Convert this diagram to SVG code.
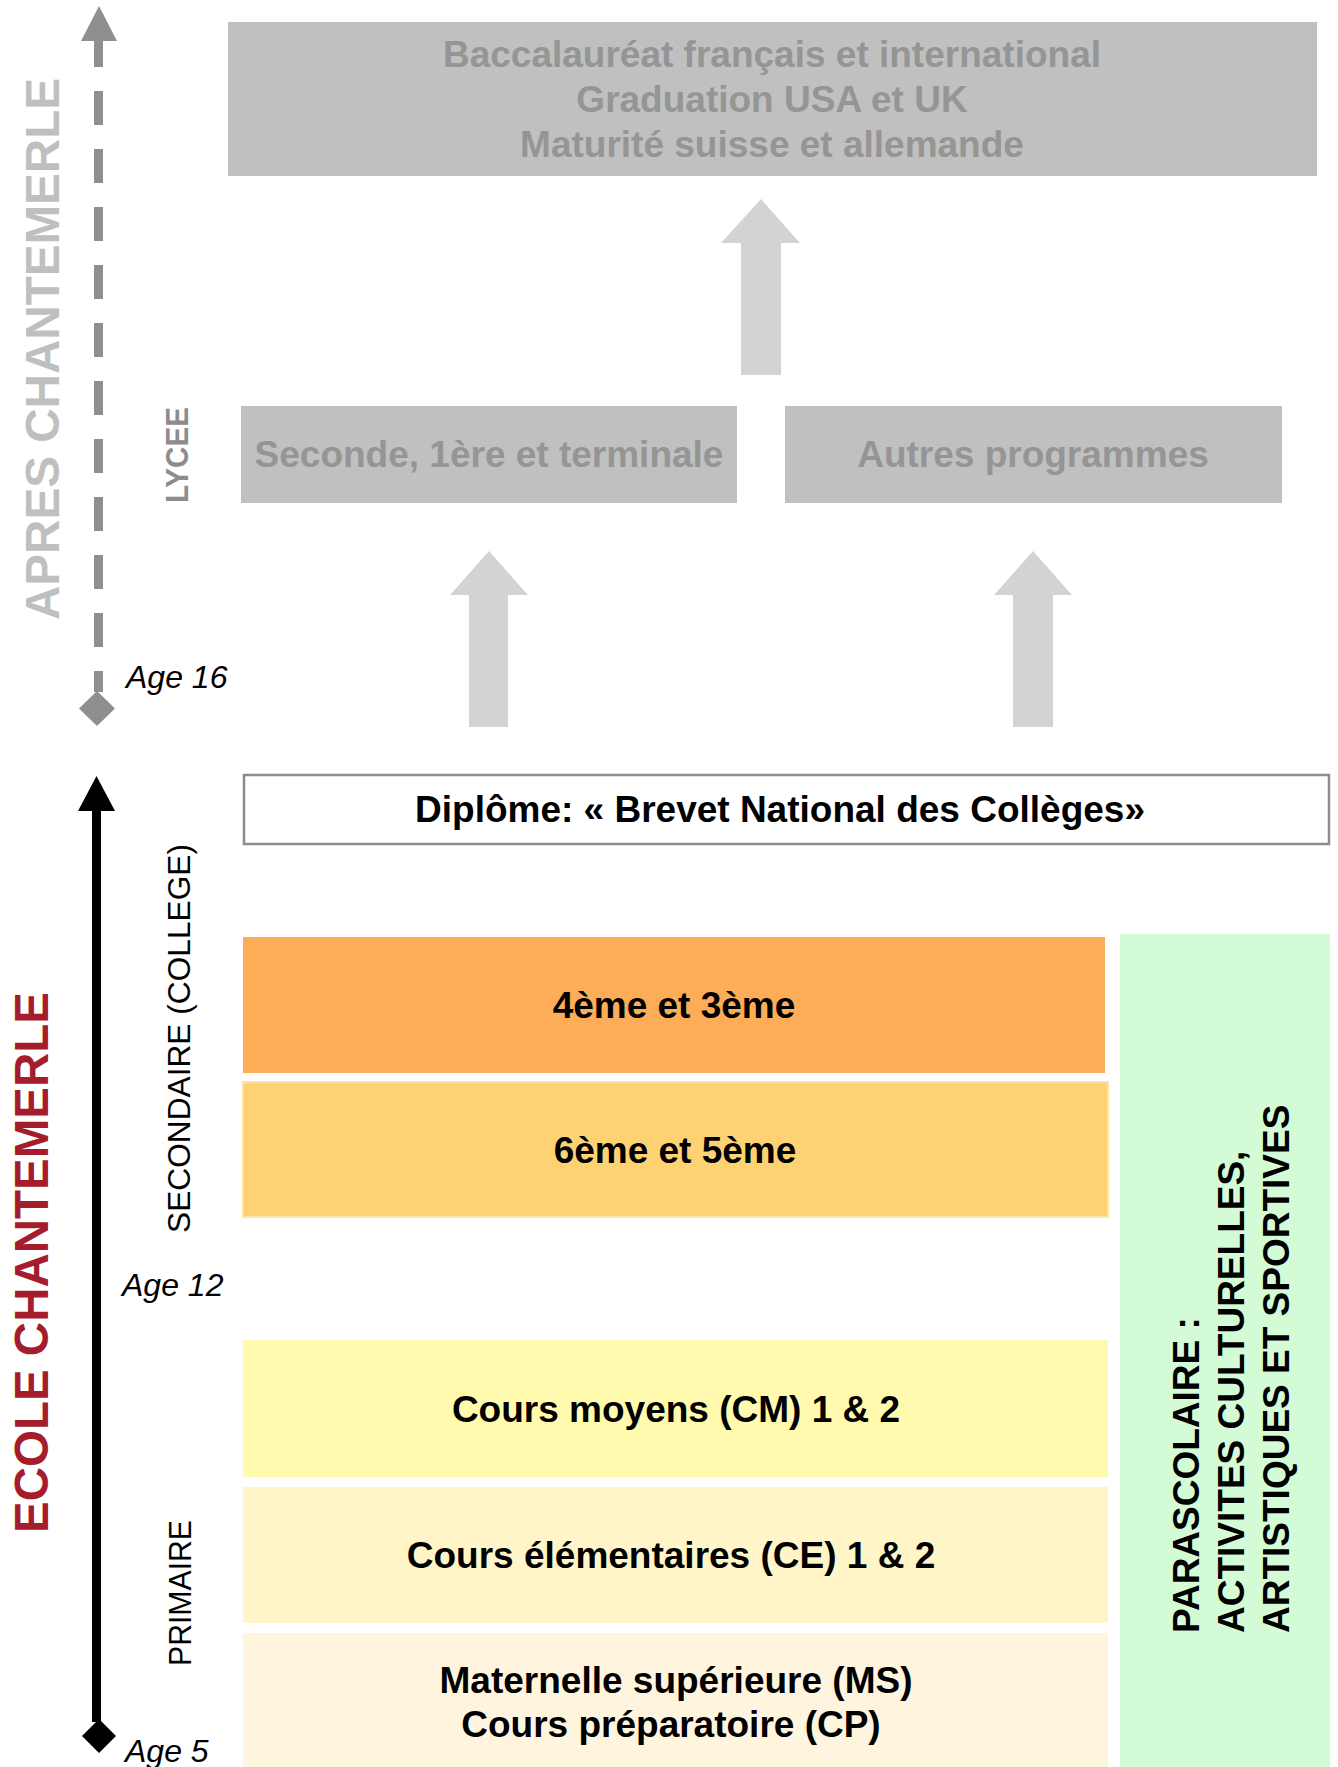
<svg xmlns="http://www.w3.org/2000/svg" width="1338" height="1767" viewBox="0 0 1338 1767">
<style>
  .b { font-family: "Liberation Sans", Arial, sans-serif; font-weight: bold; font-size: 37px; text-anchor: middle; }
  .g { fill: #959595; }
  .k { fill: #000000; }
  .side { font-family: "Liberation Sans", Arial, sans-serif; font-size: 31px; }
  .age { font-family: "Liberation Sans", Arial, sans-serif; font-style: italic; font-size: 32px; fill: #000; }
  .big { font-family: "Liberation Sans", Arial, sans-serif; font-weight: bold; font-size: 48px; }
  .grey-box { fill: #bfc0bf; }
  .block-arrow { fill: #d3d3d3; }
</style>
<rect width="1338" height="1767" fill="#ffffff"/>

<!-- Left timelines -->
<g id="timeline-apres">
  <line x1="98.5" y1="41" x2="98.5" y2="692" stroke="#8f8f8f" stroke-width="9" stroke-dasharray="34 24" stroke-dashoffset="8"/>
  <polygon points="99,6 117,41 81,41" fill="#8f8f8f"/>
  <polygon points="97,691 115,708.5 97,726 79,708.5" fill="#8f8f8f"/>
  <text class="big" transform="translate(59,620) rotate(-90)" fill="#bfbfbf" textLength="542" lengthAdjust="spacingAndGlyphs">APRES CHANTEMERLE</text>
  <text class="side" transform="translate(188,503) rotate(-90)" fill="#8c8c8c" font-weight="bold" textLength="96" lengthAdjust="spacingAndGlyphs">LYCEE</text>
  <text class="age" x="126" y="688">Age 16</text>
</g>

<g id="timeline-ecole">
  <line x1="96.5" y1="805" x2="96.5" y2="1722" stroke="#000" stroke-width="9"/>
  <polygon points="96.5,776 115,811 78,811" fill="#000"/>
  <polygon points="99,1719 116,1736 99,1753 82,1736" fill="#000"/>
  <text class="big" transform="translate(48,1533) rotate(-90)" fill="#a51c2c" textLength="541" lengthAdjust="spacingAndGlyphs">ECOLE CHANTEMERLE</text>
  <text class="side" transform="translate(190,1233) rotate(-90)" fill="#000" textLength="389" lengthAdjust="spacingAndGlyphs">SECONDAIRE (COLLEGE)</text>
  <text class="side" transform="translate(191,1666) rotate(-90)" fill="#000" textLength="146" lengthAdjust="spacingAndGlyphs">PRIMAIRE</text>
  <text class="age" x="122" y="1296">Age 12</text>
  <text class="age" x="125" y="1762">Age 5</text>
</g>

<!-- Nodes -->
<g id="node-diplomes">
  <rect class="grey-box" x="228" y="22" width="1089" height="154"/>
  <text class="b g" x="772" y="67">Baccalauréat français et international</text>
  <text class="b g" x="772" y="112">Graduation USA et UK</text>
  <text class="b g" x="772" y="157">Maturité suisse et allemande</text>
</g>

<g id="node-seconde">
  <rect class="grey-box" x="241" y="406" width="496" height="97"/>
  <text class="b g" x="489" y="467">Seconde, 1ère et terminale</text>
</g>

<g id="node-autres">
  <rect class="grey-box" x="785" y="406" width="497" height="97"/>
  <text class="b g" x="1033" y="467">Autres programmes</text>
</g>

<g id="node-brevet">
  <rect x="244" y="775" width="1085" height="69" fill="#ffffff" stroke="#8c8c8c" stroke-width="2.5"/>
  <text class="b k" x="780" y="822">Diplôme: « Brevet National des Collèges»</text>
</g>

<g id="node-4eme">
  <rect x="243" y="937" width="862" height="136" fill="#fdad57"/>
  <text class="b k" x="674" y="1018">4ème et 3ème</text>
</g>

<g id="node-6eme">
  <rect x="243" y="1082" width="865" height="135" fill="#fed272" stroke="#fde3a8" stroke-width="2"/>
  <text class="b k" x="675" y="1163">6ème et 5ème</text>
</g>

<g id="node-cm">
  <rect x="243" y="1340" width="865" height="137" fill="#fffaad"/>
  <text class="b k" x="676" y="1422">Cours moyens (CM) 1 &amp; 2</text>
</g>

<g id="node-ce">
  <rect x="243" y="1487" width="865" height="136" fill="#fff5c9"/>
  <text class="b k" x="671" y="1568">Cours élémentaires (CE) 1 &amp; 2</text>
</g>

<g id="node-ms">
  <rect x="243" y="1633" width="865" height="134" fill="#fff5df"/>
  <text class="b k" x="676" y="1693">Maternelle supérieure (MS)</text>
  <text class="b k" x="671" y="1737">Cours préparatoire (CP)</text>
</g>

<g id="node-parascolaire">
  <rect x="1120" y="934" width="210" height="833" fill="#d3fbd6"/>
  <text class="b k" style="text-anchor:start" transform="translate(1199,1633) rotate(-90)">PARASCOLAIRE :</text>
  <text class="b k" style="text-anchor:start" transform="translate(1244,1633) rotate(-90)">ACTIVITES CULTURELLES,</text>
  <text class="b k" style="text-anchor:start" transform="translate(1289,1633) rotate(-90)">ARTISTIQUES ET SPORTIVES</text>
</g>

<!-- Connectors -->
<g id="connectors">
  <path class="block-arrow" d="M741,375 V243 H721 L761,199 L800,243 H781 V375 Z"/>
  <path class="block-arrow" d="M469,727 V595 H450 L489,551 L528,595 H508 V727 Z"/>
  <path class="block-arrow" d="M1013,727 V595 H994 L1033,551 L1072,595 H1053 V727 Z"/>
</g>
</svg>
